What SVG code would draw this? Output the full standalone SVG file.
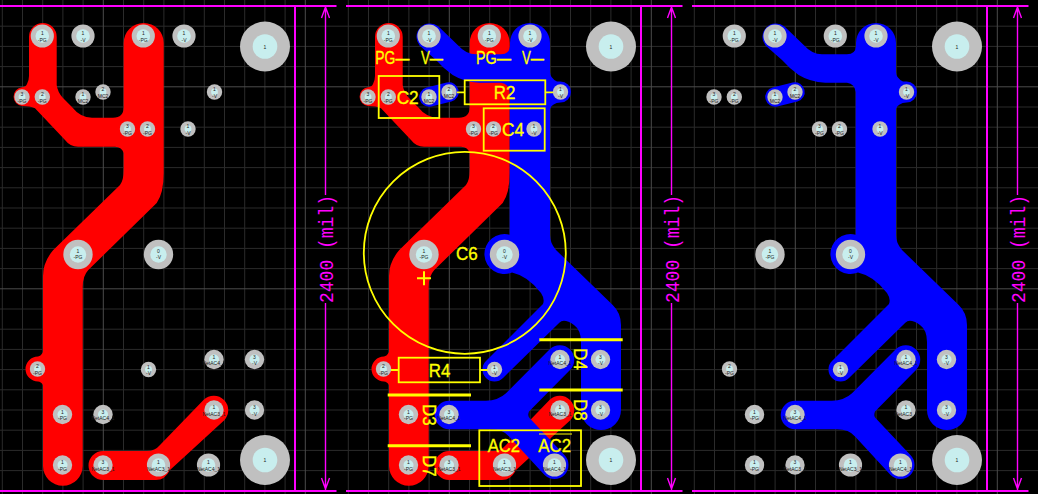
<svg xmlns="http://www.w3.org/2000/svg" width="1038" height="494" viewBox="0 0 1038 494">
<style>
text{font-family:"Liberation Sans",Arial,sans-serif}
.g1{fill:none;stroke:#2b2b2b;stroke-width:1}
.g2{fill:none;stroke:#4c4c4c;stroke-width:1}
.mg{fill:none;stroke:#ff00ff;stroke-width:2}
.dm{fill:none;stroke:#ff00ff;stroke-width:1.4}
.dt{font-family:"Liberation Mono","DejaVu Sans Mono",monospace;font-size:20px;fill:#ff00ff;text-anchor:middle}
.r{fill:#ff0000}.b{fill:#0000ff}
.pad{fill:#c0c0c0}.hole{fill:#c8eeee}
.t{font-size:5px;fill:#222;text-anchor:middle}
.sk{fill:none;stroke:#ffff00;stroke-width:1.8}
.bar{fill:none;stroke:#ffff00;stroke-width:3}
.y{font-size:19px;fill:#ffff00;stroke:#ffff00;stroke-width:.35}
</style>
<defs>
<path id="minor" class="g1" d="M2.3 0V494M22.5 0V494M42.7 0V494M62.9 0V494M83.1 0V494M123.5 0V494M143.7 0V494M163.9 0V494M184.1 0V494M204.3 0V494M224.5 0V494M244.7 0V494M264.9 0V494M285.1 0V494M0 26.2H346M0 46.4H346M0 66.6H346M0 107H346M0 127.2H346M0 147.4H346M0 167.6H346M0 187.8H346M0 208H346M0 228.2H346M0 248.4H346M0 268.6H346M0 309H346M0 329.2H346M0 349.4H346M0 369.6H346M0 389.8H346M0 410H346M0 430.2H346M0 450.4H346M0 470.6H346"/>
<path id="major" class="g2" d="M103.3 0V494M305.3 0V494M0 86.8H346M0 288.8H346"/>
<g id="dim">
<path class="mg" d="M0 6H336.5M0 491H336.5M295 6V491"/>
<path class="dm" d="M325.5 6V195M325.5 303V490M321.5 18L325.5 7L329.5 18M321.5 478L325.5 489L329.5 478"/>
</g>
<path id="redNet" class="r" d="M29 37A13.85 14 0 0 1 56.7 37V85Q57.5 92 63 98L71.7 106.7Q80.5 117.7 92 117.7H113Q123.7 117.7 123.7 107V43A20 20 0 0 1 163.7 43V173Q163.7 193 156.7 203L88.3 270Q82.7 276 82.7 287V466A19.85 19.85 0 0 1 43 466V385Q41 381.5 38 381.5A12.5 12.5 0 0 1 38 356.5Q41 356 43 352V276Q43 262 53.3 250L120 185Q123.7 180 123.7 170V153Q122 147 115 146.7H78Q70 146.7 65 140L35 108.3Q30 106 22 106A9.4 9.4 0 0 1 22 87.3Q26 87 27 84Q29 80 29 76Z"/>
<path id="redAc" class="r" d="M103 451H147Q155 451 160 445L203.75 399.75A14.5 14.5 0 0 1 224.25 420.25L170 470Q165 480 156 480H103A14.5 14.5 0 0 1 103 451Z"/>
<path id="blueNet" class="b" d="M164 43A20 20 0 0 1 204 43V72Q204 78 211 81.5Q212.5 81.5 214.5 81.5A10.5 10.5 0 0 1 214.5 102.5Q206 103 204 109V235Q204 243 210 250L266.7 305Q275 313 275 325V410A20 20 0 0 1 235 410V342Q235 330 228 325Q218 318 213.3 322.7L157 378A12 12 0 0 1 140 361L197 304Q199 299 195 293Q182 276 166 272.5A20 20 0 1 1 163.7 234.7Q163.7 233 163.7 228V92Q163 84 155 82.7H133.3Q118 82 106.7 75Q98 69 90 60L73.5 45.5A13.5 13.5 0 0 1 92.5 26.5L111.7 45Q120 54.3 130 54.3H155Q163.7 54 164 46Z"/>
<path id="blueMc" fill="none" stroke="#0000ff" stroke-width="19.5" stroke-linecap="round" d="M83 97L103 92"/>
<path id="blueAc" class="b" d="M103 400.7H140Q152 400.7 160 393.3L203.75 349.25A14.5 14.5 0 0 1 224.25 369.75L183 411.5Q181.5 415.5 183.5 418L218.4 455.1A14 14 0 0 1 198.6 474.9L163.3 436.7Q157 429.3 145 429.3H103A14.3 14.3 0 0 1 103 400.7Z"/>
<g id="pL"><circle class="pad" r="11.6"/><circle class="hole" r="6.8"/></g>
<g id="pM"><circle class="pad" r="14.7"/><circle class="hole" r="8.2"/></g>
<g id="pN"><circle class="pad" r="9.7"/><circle class="hole" r="5"/></g>
<g id="pS"><circle class="pad" r="7.7"/><circle class="hole" r="3.4"/></g>
<g id="pB"><circle class="pad" r="25"/><circle class="hole" r="12.3"/></g>
</defs>

<rect width="1038" height="494" fill="#000"/>

<g id="panel-top-layer">
<use href="#minor"/><use href="#major"/>
<use href="#redNet"/><use href="#redAc"/>
<g id="pads-1">
<g transform="translate(42.3 36)"><use href="#pL"/><text class="t" y="-1">1</text><text class="t" y="5.7">-PG</text></g>
<g transform="translate(83 36)"><use href="#pL"/><text class="t" y="-1">1</text><text class="t" y="5.7">-V</text></g>
<g transform="translate(143.3 36)"><use href="#pL"/><text class="t" y="-1">1</text><text class="t" y="5.7">-PG</text></g>
<g transform="translate(184 36)"><use href="#pL"/><text class="t" y="-1">1</text><text class="t" y="5.7">-V</text></g>
<g transform="translate(265 46.5)"><use href="#pB"/><text class="t" y="2">1</text></g>
<g transform="translate(22 97)"><use href="#pS"/><text class="t" y="-1">3</text><text class="t" y="5.7">-PG</text></g>
<g transform="translate(42.3 97)"><use href="#pS"/><text class="t" y="-1">2</text><text class="t" y="5.7">-PG</text></g>
<g transform="translate(83 97)"><use href="#pS"/><text class="t" y="-1">1</text><text class="t" y="5.7">MC2</text></g>
<g transform="translate(103 92)"><use href="#pS"/><text class="t" y="-1">2</text><text class="t" y="5.7">MC2</text></g>
<g transform="translate(214.5 92)"><use href="#pS"/><text class="t" y="-1">1</text><text class="t" y="5.7">-V</text></g>
<g transform="translate(127.5 129)"><use href="#pS"/><text class="t" y="-1">3</text><text class="t" y="5.7">-PG</text></g>
<g transform="translate(147.5 129)"><use href="#pS"/><text class="t" y="-1">2</text><text class="t" y="5.7">-PG</text></g>
<g transform="translate(188 129)"><use href="#pS"/><text class="t" y="-1">1</text><text class="t" y="5.7">-V</text></g>
<g transform="translate(78 254.5)"><use href="#pM"/><text class="t" y="-2">1</text><text class="t" y="4.5">-PG</text></g>
<g transform="translate(158.5 254.5)"><use href="#pM"/><text class="t" y="-2">0</text><text class="t" y="4.5">-V</text></g>
<g transform="translate(37.5 369)"><use href="#pS"/><text class="t" y="-1">2</text><text class="t" y="5.7">-PG</text></g>
<g transform="translate(148.5 369.5)"><use href="#pS"/><text class="t" y="-1">1</text><text class="t" y="5.7">-V</text></g>
<g transform="translate(214 359.5)"><use href="#pN"/><text class="t" y="-1">1</text><text class="t" y="5.7">NetAC4_1</text></g>
<g transform="translate(254.5 359.5)"><use href="#pN"/><text class="t" y="-1">3</text><text class="t" y="5.7">-V</text></g>
<g transform="translate(62.5 414.5)"><use href="#pN"/><text class="t" y="-1">1</text><text class="t" y="5.7">-PG</text></g>
<g transform="translate(103 414.5)"><use href="#pN"/><text class="t" y="-1">3</text><text class="t" y="5.7">NetAC4_1</text></g>
<g transform="translate(214 410)"><use href="#pN"/><text class="t" y="-1">1</text><text class="t" y="5.7">NetAC3_1</text></g>
<g transform="translate(254.5 410)"><use href="#pN"/><text class="t" y="-1">3</text><text class="t" y="5.7">-V</text></g>
<g transform="translate(62.5 465)"><use href="#pN"/><text class="t" y="-1">1</text><text class="t" y="5.7">-PG</text></g>
<g transform="translate(103 465)"><use href="#pN"/><text class="t" y="-1">3</text><text class="t" y="5.7">NetAC3_1</text></g>
<g transform="translate(158.5 465)"><use href="#pL"/><text class="t" y="-1">1</text><text class="t" y="5.7">NetAC3_1</text></g>
<g transform="translate(208.5 465)"><use href="#pL"/><text class="t" y="-1">1</text><text class="t" y="5.7">NetAC4_1</text></g>
<g transform="translate(265 460)"><use href="#pB"/><text class="t" y="2">1</text></g>
</g>
<use href="#dim"/>
<text class="dt" transform="translate(332.5 249) rotate(-90)" textLength="108" lengthAdjust="spacingAndGlyphs">2400 (mil)</text>
</g>

<g id="panel-both-layers" transform="translate(346 0)">
<use href="#minor"/><use href="#major"/>
<use href="#redNet"/><use href="#redAc"/>
<use href="#blueNet"/><use href="#blueMc"/><use href="#blueAc"/>
<g id="pads-2">
<g transform="translate(42.3 36)"><use href="#pL"/><text class="t" y="-1">1</text><text class="t" y="5.7">-PG</text></g>
<g transform="translate(83 36)"><use href="#pL"/><text class="t" y="-1">1</text><text class="t" y="5.7">-V</text></g>
<g transform="translate(143.3 36)"><use href="#pL"/><text class="t" y="-1">1</text><text class="t" y="5.7">-PG</text></g>
<g transform="translate(184 36)"><use href="#pL"/><text class="t" y="-1">1</text><text class="t" y="5.7">-V</text></g>
<g transform="translate(265 46.5)"><use href="#pB"/><text class="t" y="2">1</text></g>
<g transform="translate(22 97)"><use href="#pS"/><text class="t" y="-1">3</text><text class="t" y="5.7">-PG</text></g>
<g transform="translate(42.3 97)"><use href="#pS"/><text class="t" y="-1">2</text><text class="t" y="5.7">-PG</text></g>
<g transform="translate(83 97)"><use href="#pS"/><text class="t" y="-1">1</text><text class="t" y="5.7">MC2</text></g>
<g transform="translate(103 92)"><use href="#pS"/><text class="t" y="-1">2</text><text class="t" y="5.7">MC2</text></g>
<g transform="translate(214.5 92)"><use href="#pS"/><text class="t" y="-1">1</text><text class="t" y="5.7">-V</text></g>
<g transform="translate(127.5 129)"><use href="#pS"/><text class="t" y="-1">3</text><text class="t" y="5.7">-PG</text></g>
<g transform="translate(147.5 129)"><use href="#pS"/><text class="t" y="-1">2</text><text class="t" y="5.7">-PG</text></g>
<g transform="translate(188 129)"><use href="#pS"/><text class="t" y="-1">1</text><text class="t" y="5.7">-V</text></g>
<g transform="translate(78 254.5)"><use href="#pM"/><text class="t" y="-2">1</text><text class="t" y="4.5">-PG</text></g>
<g transform="translate(158.5 254.5)"><use href="#pM"/><text class="t" y="-2">0</text><text class="t" y="4.5">-V</text></g>
<g transform="translate(37.5 369)"><use href="#pS"/><text class="t" y="-1">2</text><text class="t" y="5.7">-PG</text></g>
<g transform="translate(148.5 369.5)"><use href="#pS"/><text class="t" y="-1">1</text><text class="t" y="5.7">-V</text></g>
<g transform="translate(214 359.5)"><use href="#pN"/><text class="t" y="-1">1</text><text class="t" y="5.7">NetAC4_1</text></g>
<g transform="translate(254.5 359.5)"><use href="#pN"/><text class="t" y="-1">3</text><text class="t" y="5.7">-V</text></g>
<g transform="translate(62.5 414.5)"><use href="#pN"/><text class="t" y="-1">1</text><text class="t" y="5.7">-PG</text></g>
<g transform="translate(103 414.5)"><use href="#pN"/><text class="t" y="-1">3</text><text class="t" y="5.7">NetAC4_1</text></g>
<g transform="translate(214 410)"><use href="#pN"/><text class="t" y="-1">1</text><text class="t" y="5.7">NetAC3_1</text></g>
<g transform="translate(254.5 410)"><use href="#pN"/><text class="t" y="-1">3</text><text class="t" y="5.7">-V</text></g>
<g transform="translate(62.5 465)"><use href="#pN"/><text class="t" y="-1">1</text><text class="t" y="5.7">-PG</text></g>
<g transform="translate(103 465)"><use href="#pN"/><text class="t" y="-1">3</text><text class="t" y="5.7">NetAC3_1</text></g>
<g transform="translate(158.5 465)"><use href="#pL"/><text class="t" y="-1">1</text><text class="t" y="5.7">NetAC3_1</text></g>
<g transform="translate(208.5 465)"><use href="#pL"/><text class="t" y="-1">1</text><text class="t" y="5.7">NetAC4_1</text></g>
<g transform="translate(265 460)"><use href="#pB"/><text class="t" y="2">1</text></g>
</g>
<g id="silkscreen">
<text class="y" x="29.3" y="64" textLength="34" lengthAdjust="spacingAndGlyphs">PG—</text>
<text class="y" x="75" y="64" textLength="22" lengthAdjust="spacingAndGlyphs">V—</text>
<text class="y" x="130" y="64" textLength="35" lengthAdjust="spacingAndGlyphs">PG—</text>
<text class="y" x="176" y="64" textLength="22" lengthAdjust="spacingAndGlyphs">V—</text>
<rect class="sk" x="32.7" y="76" width="60.6" height="42"/>
<text class="y" x="50.7" y="104" textLength="22" lengthAdjust="spacingAndGlyphs">C2</text>
<path class="sk" d="M111 92.3H118.7M199.3 92.3H207.3"/>
<rect class="sk" x="118.7" y="80.3" width="80.6" height="24"/>
<text class="y" x="147.7" y="98.7" textLength="21.6" lengthAdjust="spacingAndGlyphs">R2</text>
<rect class="sk" x="137.7" y="108.3" width="61" height="42.4"/>
<text class="y" x="156" y="136" textLength="22" lengthAdjust="spacingAndGlyphs">C4</text>
<circle class="sk" cx="118.8" cy="252.8" r="101"/>
<text class="y" x="110" y="260" textLength="21.7" lengthAdjust="spacingAndGlyphs">C6</text>
<path class="sk" style="stroke-width:2" d="M71 278.3H85M78 271.3V285.3"/>
<path class="sk" d="M45 370H52.7M134 370H141.7"/>
<rect class="sk" x="52.7" y="357.7" width="81.3" height="24.6"/>
<text class="y" x="82.7" y="376.7" textLength="21.6" lengthAdjust="spacingAndGlyphs">R4</text>
<path class="bar" d="M41.7 395H125M41.7 445.7H125M193.3 339.7H276.7M193.3 390H276.7"/>
<text class="y" transform="translate(77.3 404) rotate(90)" textLength="21.7" lengthAdjust="spacingAndGlyphs">D3</text>
<text class="y" transform="translate(77.3 455) rotate(90)" textLength="21.7" lengthAdjust="spacingAndGlyphs">D7</text>
<text class="y" transform="translate(228.3 348) rotate(90)" textLength="22" lengthAdjust="spacingAndGlyphs">D4</text>
<text class="y" transform="translate(228.3 399) rotate(90)" textLength="21.7" lengthAdjust="spacingAndGlyphs">D8</text>
<rect class="sk" x="133.3" y="430.3" width="101.7" height="55.7"/>
<text class="y" x="141.7" y="451.7" textLength="32.3" lengthAdjust="spacingAndGlyphs">AC2</text>
<text class="y" x="192.3" y="451.7" textLength="32.7" lengthAdjust="spacingAndGlyphs">AC2</text>
<path class="sk" style="stroke-width:1" d="M193 434H226"/>
</g>
<use href="#dim"/>
<text class="dt" transform="translate(332.5 249) rotate(-90)" textLength="108" lengthAdjust="spacingAndGlyphs">2400 (mil)</text>
</g>

<g id="panel-bottom-layer" transform="translate(692 0)">
<use href="#minor"/><use href="#major"/>
<use href="#blueNet"/><use href="#blueMc"/><use href="#blueAc"/>
<g id="pads-3">
<g transform="translate(42.3 36)"><use href="#pL"/><text class="t" y="-1">1</text><text class="t" y="5.7">-PG</text></g>
<g transform="translate(83 36)"><use href="#pL"/><text class="t" y="-1">1</text><text class="t" y="5.7">-V</text></g>
<g transform="translate(143.3 36)"><use href="#pL"/><text class="t" y="-1">1</text><text class="t" y="5.7">-PG</text></g>
<g transform="translate(184 36)"><use href="#pL"/><text class="t" y="-1">1</text><text class="t" y="5.7">-V</text></g>
<g transform="translate(265 46.5)"><use href="#pB"/><text class="t" y="2">1</text></g>
<g transform="translate(22 97)"><use href="#pS"/><text class="t" y="-1">3</text><text class="t" y="5.7">-PG</text></g>
<g transform="translate(42.3 97)"><use href="#pS"/><text class="t" y="-1">2</text><text class="t" y="5.7">-PG</text></g>
<g transform="translate(83 97)"><use href="#pS"/><text class="t" y="-1">1</text><text class="t" y="5.7">MC2</text></g>
<g transform="translate(103 92)"><use href="#pS"/><text class="t" y="-1">2</text><text class="t" y="5.7">MC2</text></g>
<g transform="translate(214.5 92)"><use href="#pS"/><text class="t" y="-1">1</text><text class="t" y="5.7">-V</text></g>
<g transform="translate(127.5 129)"><use href="#pS"/><text class="t" y="-1">3</text><text class="t" y="5.7">-PG</text></g>
<g transform="translate(147.5 129)"><use href="#pS"/><text class="t" y="-1">2</text><text class="t" y="5.7">-PG</text></g>
<g transform="translate(188 129)"><use href="#pS"/><text class="t" y="-1">1</text><text class="t" y="5.7">-V</text></g>
<g transform="translate(78 254.5)"><use href="#pM"/><text class="t" y="-2">1</text><text class="t" y="4.5">-PG</text></g>
<g transform="translate(158.5 254.5)"><use href="#pM"/><text class="t" y="-2">0</text><text class="t" y="4.5">-V</text></g>
<g transform="translate(37.5 369)"><use href="#pS"/><text class="t" y="-1">2</text><text class="t" y="5.7">-PG</text></g>
<g transform="translate(148.5 369.5)"><use href="#pS"/><text class="t" y="-1">1</text><text class="t" y="5.7">-V</text></g>
<g transform="translate(214 359.5)"><use href="#pN"/><text class="t" y="-1">1</text><text class="t" y="5.7">NetAC4_1</text></g>
<g transform="translate(254.5 359.5)"><use href="#pN"/><text class="t" y="-1">3</text><text class="t" y="5.7">-V</text></g>
<g transform="translate(62.5 414.5)"><use href="#pN"/><text class="t" y="-1">1</text><text class="t" y="5.7">-PG</text></g>
<g transform="translate(103 414.5)"><use href="#pN"/><text class="t" y="-1">3</text><text class="t" y="5.7">NetAC4_1</text></g>
<g transform="translate(214 410)"><use href="#pN"/><text class="t" y="-1">1</text><text class="t" y="5.7">NetAC3_1</text></g>
<g transform="translate(254.5 410)"><use href="#pN"/><text class="t" y="-1">3</text><text class="t" y="5.7">-V</text></g>
<g transform="translate(62.5 465)"><use href="#pN"/><text class="t" y="-1">1</text><text class="t" y="5.7">-PG</text></g>
<g transform="translate(103 465)"><use href="#pN"/><text class="t" y="-1">3</text><text class="t" y="5.7">NetAC3_1</text></g>
<g transform="translate(158.5 465)"><use href="#pL"/><text class="t" y="-1">1</text><text class="t" y="5.7">NetAC3_1</text></g>
<g transform="translate(208.5 465)"><use href="#pL"/><text class="t" y="-1">1</text><text class="t" y="5.7">NetAC4_1</text></g>
<g transform="translate(265 460)"><use href="#pB"/><text class="t" y="2">1</text></g>
</g>
<use href="#dim"/>
<text class="dt" transform="translate(332.5 249) rotate(-90)" textLength="108" lengthAdjust="spacingAndGlyphs">2400 (mil)</text>
</g>
</svg>
